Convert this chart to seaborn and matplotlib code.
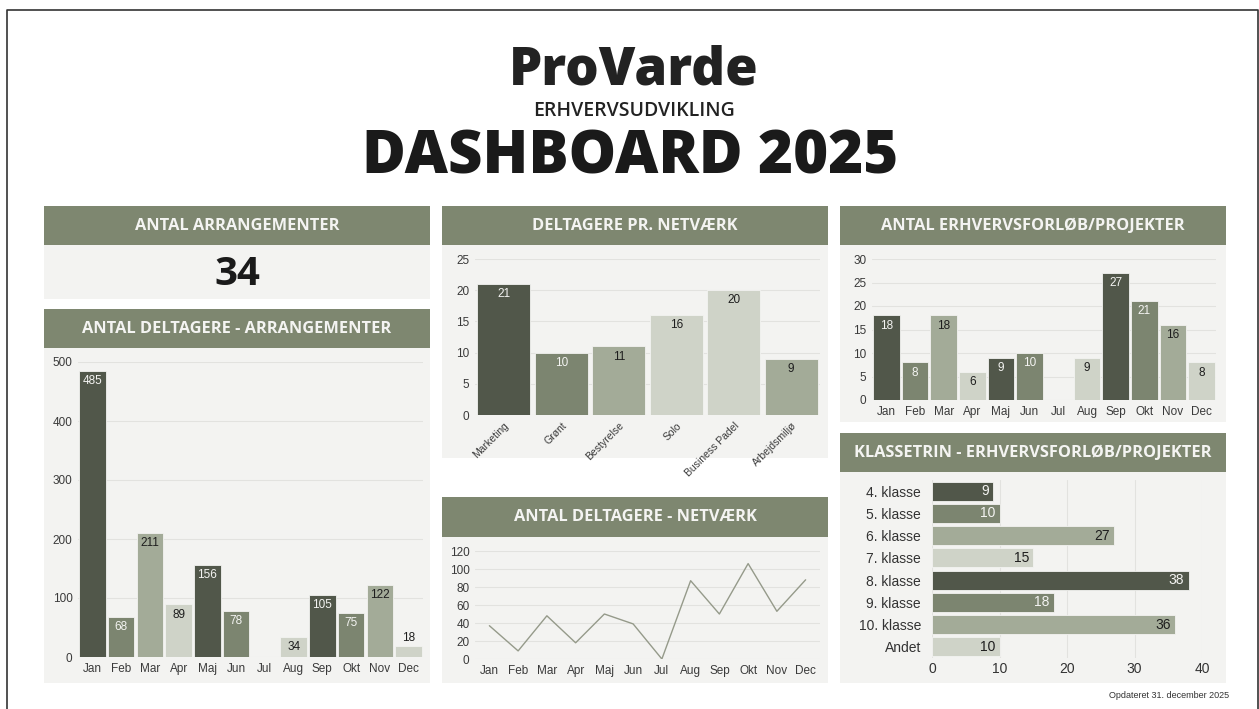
import matplotlib
matplotlib.use("Agg")
import matplotlib.pyplot as plt
from matplotlib.patches import Rectangle
from matplotlib.lines import Line2D
import seaborn as sns
import pandas as pd
import numpy as np

# ---------------- data ----------------
months = ["Jan", "Feb", "Mar", "Apr", "Maj", "Jun", "Jul", "Aug", "Sep", "Okt", "Nov", "Dec"]
arrangementer_total = 34
deltagere_arr = [485, 68, 211, 89, 156, 78, 0, 34, 105, 75, 122, 18]
netvaerk_names = ["Marketing", "Grønt", "Bestyrelse", "Solo", "Business Padel", "Arbejdsmiljø"]
netvaerk_vals = [21, 10, 11, 16, 20, 9]
deltagere_netv = [37, 9, 48, 18, 50, 39, 0, 87, 50, 106, 53, 88]
forloeb_vals = [18, 8, 18, 6, 9, 10, 0, 9, 27, 21, 16, 8]
klasse_names = ["4. klasse", "5. klasse", "6. klasse", "7. klasse", "8. klasse", "9. klasse", "10. klasse", "Andet"]
klasse_vals = [9, 10, 27, 15, 38, 18, 36, 10]

# ---------------- style ----------------
DARK = "#51574a"
MED = "#7c8570"
LMED = "#a3ab98"
LIGHT = "#cfd3c8"
HEAD = "#7e8770"
PANEL = "#f3f3f1"
GRID = "#e2e2df"
TXT = "#3a3a3a"
cycle = [DARK, MED, LMED, LIGHT]

netv_colors = [DARK, MED, LMED, LIGHT, LIGHT, LMED]

sns.set_theme(style="white")
plt.rcParams["font.family"] = ["Liberation Sans", "DejaVu Sans"]

W, H = 1259, 709
fig = plt.figure(figsize=(W / 100, H / 100), dpi=100)
fig.patch.set_facecolor("white")


def frect(x, y, w, h):
    return [x / W, 1 - (y + h) / H, w / W, h / H]


def box(x, y, w, h, color):
    r = Rectangle((x / W, 1 - (y + h) / H), w / W, h / H, transform=fig.transFigure,
                  facecolor=color, edgecolor="none", zorder=-5)
    fig.patches.append(r)


def header(x, y, w, h, text):
    box(x, y, w, h, HEAD)
    fig.text((x + w / 2) / W, 1 - (y + h / 2) / H, text, ha="center", va="center",
             color="#f4f4f2", fontsize=11.8, fontweight="bold", family="Open Sans")


def ftext(x, y, s, **kw):
    fig.text(x / W, 1 - y / H, s, **kw)


# slide border
fig.lines.append(Line2D([7 / W, 7 / W, 1258 / W, 1258 / W], [0, 1 - 10 / H, 1 - 10 / H, 0],
                        transform=fig.transFigure, color="#333333", lw=1.2))

# title block
ftext(634, 71, "ProVarde", ha="center", va="center", fontsize=38, fontweight="heavy",
      family="Open Sans", color="#222222")
ftext(634, 111, "ERHVERVSUDVIKLING", ha="center", va="center", fontsize=14,
      fontweight="semibold", family="Open Sans", color="#222222")
ftext(630, 158, "DASHBOARD 2025", ha="center", va="center", fontsize=43, fontweight="heavy",
      family="Open Sans", color="#1a1a1a")

# panels and headers
header(44, 206, 386, 39, "ANTAL ARRANGEMENTER")
box(44, 245, 386, 54, PANEL)
ftext(237, 274, str(arrangementer_total), ha="center", va="center", fontsize=29,
      fontweight="bold", family="Open Sans", color="#1a1a1a")

header(44, 309, 386, 39, "ANTAL DELTAGERE - ARRANGEMENTER")
box(44, 348, 386, 335, PANEL)

header(442, 206, 386, 39, "DELTAGERE PR. NETVÆRK")
box(442, 245, 386, 213, PANEL)

header(442, 497, 386, 40, "ANTAL DELTAGERE - NETVÆRK")
box(442, 537, 386, 146, PANEL)

header(840, 206, 386, 39, "ANTAL ERHVERVSFORLØB/PROJEKTER")
box(840, 245, 386, 177, PANEL)

header(840, 433, 386, 39, "KLASSETRIN - ERHVERVSFORLØB/PROJEKTER")
box(840, 472, 386, 211, PANEL)

ftext(1229, 695, "Opdateret 31. december 2025", ha="right", va="center", fontsize=6.5,
      color="#333333")


def style_ax(ax, grid_axis="y"):
    ax.set_facecolor("none")
    ax.patch.set_alpha(0)
    for s in ax.spines.values():
        s.set_visible(False)
    ax.grid(True, axis=grid_axis, color=GRID, lw=0.8)
    ax.set_axisbelow(True)
    ax.tick_params(axis="both", length=0, labelsize=8.5, colors=TXT, pad=4)
    ax.set_xlabel("")
    ax.set_ylabel("")


def label_vbars(ax, vals, colors, ymax, ax_h_px):
    for i, (v, c) in enumerate(zip(vals, colors)):
        if v == 0:
            continue
        tc = "#f4f4f2" if c in (DARK, MED) else "#1e1e1e"
        h_px = v / ymax * ax_h_px
        if h_px < 18:
            ax.annotate(str(v), (i, v), xytext=(0, 2), textcoords="offset points",
                        ha="center", va="bottom", fontsize=8.5, color="#1e1e1e")
        else:
            ax.annotate(str(v), (i, v), xytext=(0, -3), textcoords="offset points",
                        ha="center", va="top", fontsize=8.5, color=tc)


# ---------- left: deltagere arrangementer ----------
ax1 = fig.add_axes(frect(78, 362, 345, 295))
cols1 = [cycle[i % 4] for i in range(12)]
df1 = pd.DataFrame({"m": months, "v": deltagere_arr})
sns.barplot(data=df1, x="m", y="v", hue="m", palette=dict(zip(months, cols1)), dodge=False,
            legend=False, width=0.92, ax=ax1, saturation=1, edgecolor=PANEL, linewidth=0.6)
style_ax(ax1)
ax1.set_ylim(0, 500)
ax1.set_xlim(-0.5, 11.5)
ax1.set_yticks([0, 100, 200, 300, 400, 500])
label_vbars(ax1, deltagere_arr, cols1, 500, 295)

# ---------- middle top: per netværk ----------
ax2 = fig.add_axes(frect(475, 259, 345, 156))
df2 = pd.DataFrame({"n": netvaerk_names, "v": netvaerk_vals})
sns.barplot(data=df2, x="n", y="v", hue="n", palette=dict(zip(netvaerk_names, netv_colors)),
            dodge=False, legend=False, width=0.93, ax=ax2, saturation=1, edgecolor=PANEL, linewidth=0.6)
style_ax(ax2)
ax2.set_ylim(0, 25)
ax2.set_xlim(-0.5, 5.5)
ax2.set_yticks([0, 5, 10, 15, 20, 25])
for lab in ax2.get_xticklabels():
    lab.set_rotation(45)
    lab.set_ha("right")
    lab.set_rotation_mode("anchor")
    lab.set_fontsize(7.5)
label_vbars(ax2, netvaerk_vals, netv_colors, 25, 156)

# ---------- middle bottom: line ----------
ax3 = fig.add_axes(frect(475, 551, 345, 108))
df3 = pd.DataFrame({"m": months, "v": deltagere_netv})
sns.lineplot(data=df3, x="m", y="v", sort=False, color="#959a8a", lw=1.0, ax=ax3)
style_ax(ax3)
ax3.set_ylim(0, 120)
ax3.set_xlim(-0.5, 11.5)
ax3.set_yticks([0, 20, 40, 60, 80, 100, 120])

# ---------- right top: forløb ----------
ax4 = fig.add_axes(frect(872, 259, 344, 141))
df4 = pd.DataFrame({"m": months, "v": forloeb_vals})
sns.barplot(data=df4, x="m", y="v", hue="m", palette=dict(zip(months, cols1)), dodge=False,
            legend=False, width=0.93, ax=ax4, saturation=1, edgecolor=PANEL, linewidth=0.6)
style_ax(ax4)
ax4.set_ylim(0, 30)
ax4.set_xlim(-0.5, 11.5)
ax4.set_yticks([0, 5, 10, 15, 20, 25, 30])
label_vbars(ax4, forloeb_vals, cols1, 30, 141)

# ---------- right bottom: klassetrin ----------
ax5 = fig.add_axes(frect(932, 480, 270, 178))
cols5 = [cycle[i % 4] for i in range(8)]
df5 = pd.DataFrame({"k": klasse_names, "v": klasse_vals})
sns.barplot(data=df5, x="v", y="k", hue="k", palette=dict(zip(klasse_names, cols5)), dodge=False,
            legend=False, width=0.86, orient="h", ax=ax5, saturation=1, edgecolor=PANEL, linewidth=0.6)
style_ax(ax5, grid_axis="x")
ax5.set_xlim(0, 40)
ax5.set_ylim(7.5, -0.5)
ax5.set_xticks([0, 10, 20, 30, 40])
ax5.tick_params(axis="y", labelsize=10, colors="#333333", pad=8)
ax5.tick_params(axis="x", labelsize=10, colors="#333333", pad=3)
for i, (v, c) in enumerate(zip(klasse_vals, cols5)):
    tc = "#f4f4f2" if c in (DARK, MED) else "#1e1e1e"
    ax5.annotate(str(v), (v, i), xytext=(-3, 0), textcoords="offset points",
                 ha="right", va="center", fontsize=10, color=tc)

fig.savefig("out.png", dpi=100, facecolor="white")
